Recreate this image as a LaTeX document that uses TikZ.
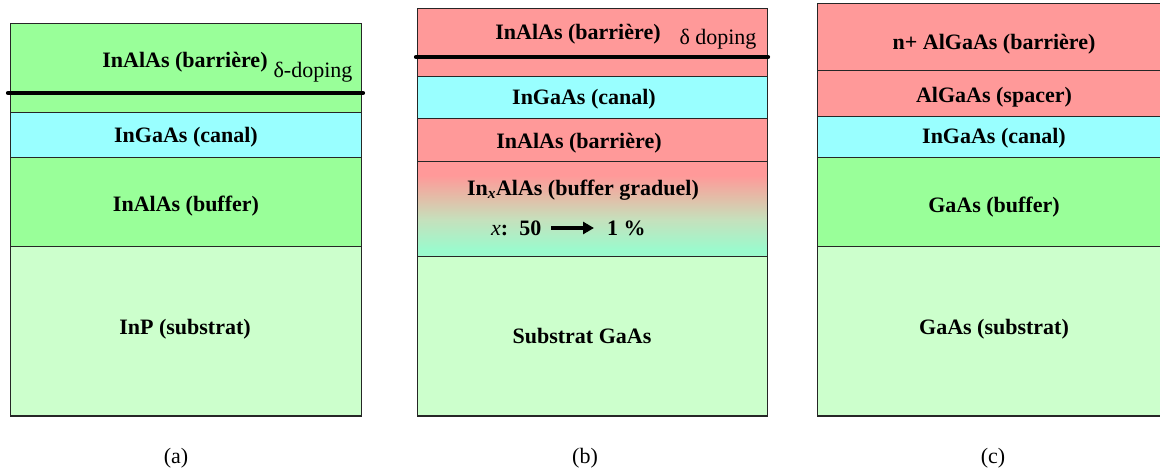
\documentclass[tikz,border=0pt]{standalone}
\usepackage{fontspec}
\setmainfont{Liberation Serif}
\usetikzlibrary{arrows.meta}
\definecolor{grn}{HTML}{99FF99}
\definecolor{lgrn}{HTML}{CCFFCC}
\definecolor{cyn}{HTML}{99FFFF}
\definecolor{pnk}{HTML}{FF9999}
\definecolor{aqua}{RGB}{155,250,205}
\definecolor{gmid}{RGB}{198,224,188}
\definecolor{tan}{RGB}{226,190,168}
\pgfdeclareverticalshading{graded}{100bp}{color(0bp)=(aqua); color(29bp)=(aqua); color(45bp)=(gmid); color(56bp)=(tan); color(68bp)=(pnk); color(100bp)=(pnk)}
\tikzset{
  layer/.style={draw=black!85, line width=1pt, inner sep=0pt, outer sep=0pt, anchor=north west},
  lbl/.style={font=\bfseries\fontsize{22}{26}\selectfont, inner sep=0pt},
  rlbl/.style={font=\fontsize{22}{26}\selectfont, inner sep=0pt},
  deltaline/.style={line width=4.2pt, line cap=round, black},
}
\begin{document}
\begin{tikzpicture}[x=1pt,y=-1pt]
\path[use as bounding box] (0,0) rectangle (1160,470);
\clip (0,0) rectangle (1160,470);
% ---------- (a)
\node[layer, fill=grn,  minimum width=351pt, minimum height=89pt]  (a1) at (10,24) {};
\node[layer, fill=cyn,  minimum width=351pt, minimum height=45pt]  (a2) at (10,113) {};
\node[layer, fill=grn,  minimum width=351pt, minimum height=89pt]  (a3) at (10,158) {};
\node[layer, fill=lgrn, minimum width=351pt, minimum height=169pt] (a4) at (10,247) {};
\coordinate (da1) at (8,93);
\coordinate (da2) at (363,93);
\draw[deltaline] (da1) -- (da2);
\node[lbl]  (ta1) at (185,62)  {InAlAs (barrière)};
\node[rlbl] (tda) at (313,72)  {δ-doping};
\node[lbl]  (ta2) at (186,137) {InGaAs (canal)};
\node[lbl]  (ta3) at (186,206) {InAlAs (buffer)};
\node[lbl]  (ta4) at (185,329) {InP (substrat)};
\node[rlbl] (capa) at (176,458) {(a)};
% ---------- (b)
\node[layer, fill=pnk,  minimum width=350pt, minimum height=68pt]  (b1) at (417,9) {};
\node[layer, fill=cyn,  minimum width=350pt, minimum height=42pt]  (b2) at (417,77) {};
\node[layer, fill=pnk,  minimum width=350pt, minimum height=43pt]  (b3) at (417,119) {};
\node[layer, shading=graded, minimum width=350pt, minimum height=95pt] (b4) at (417,162) {};
\node[layer, fill=lgrn, minimum width=350pt, minimum height=159pt] (b5) at (417,257) {};
\coordinate (db1) at (416,57);
\coordinate (db2) at (768,57);
\draw[deltaline] (db1) -- (db2);
\node[lbl]  (tb1) at (578,34)  {InAlAs (barrière)};
\node[rlbl] (tdb) at (718,39)  {δ doping};
\node[lbl]  (tb2) at (584,99)  {InGaAs (canal)};
\node[lbl]  (tb3) at (579,143) {InAlAs (barrière)};
\node[lbl]  (tb4) at (583,190) {In\textsubscript{\itshape x}AlAs (buffer graduel)};
\node[lbl, anchor=west] (xa) at (491,228) {{\mdseries\itshape x}:\ \ 50};
\node[lbl, anchor=west] (xb) at (607,228) {1 \%};
\draw[line width=3.2pt, -{Triangle[length=11pt,width=12pt]}] ([xshift=10pt]xa.east) -- ([xshift=-13pt]xb.west);
\node[lbl]  (tb5) at (582,336) {Substrat GaAs};
\node[rlbl] (capb) at (585,458) {(b)};
% ---------- (c)
\node[layer, fill=pnk,  minimum width=350pt, minimum height=67pt]  (c1) at (817,4) {};
\node[layer, fill=pnk,  minimum width=350pt, minimum height=46pt]  (c2) at (817,71) {};
\node[layer, fill=cyn,  minimum width=350pt, minimum height=41pt]  (c3) at (817,117) {};
\node[layer, fill=grn,  minimum width=350pt, minimum height=89pt]  (c4) at (817,158) {};
\node[layer, fill=lgrn, minimum width=350pt, minimum height=169pt] (c5) at (817,247) {};
\node[lbl]  (tc1) at (994,44)  {n+ AlGaAs (barrière)};
\node[lbl]  (tc2) at (994,97)  {AlGaAs (spacer)};
\node[lbl]  (tc3) at (994,138) {InGaAs (canal)};
\node[lbl]  (tc4) at (994,207) {GaAs (buffer)};
\node[lbl]  (tc5) at (994,329) {GaAs (substrat)};
\node[rlbl] (capc) at (993,458) {(c)};
\end{tikzpicture}
\end{document}
